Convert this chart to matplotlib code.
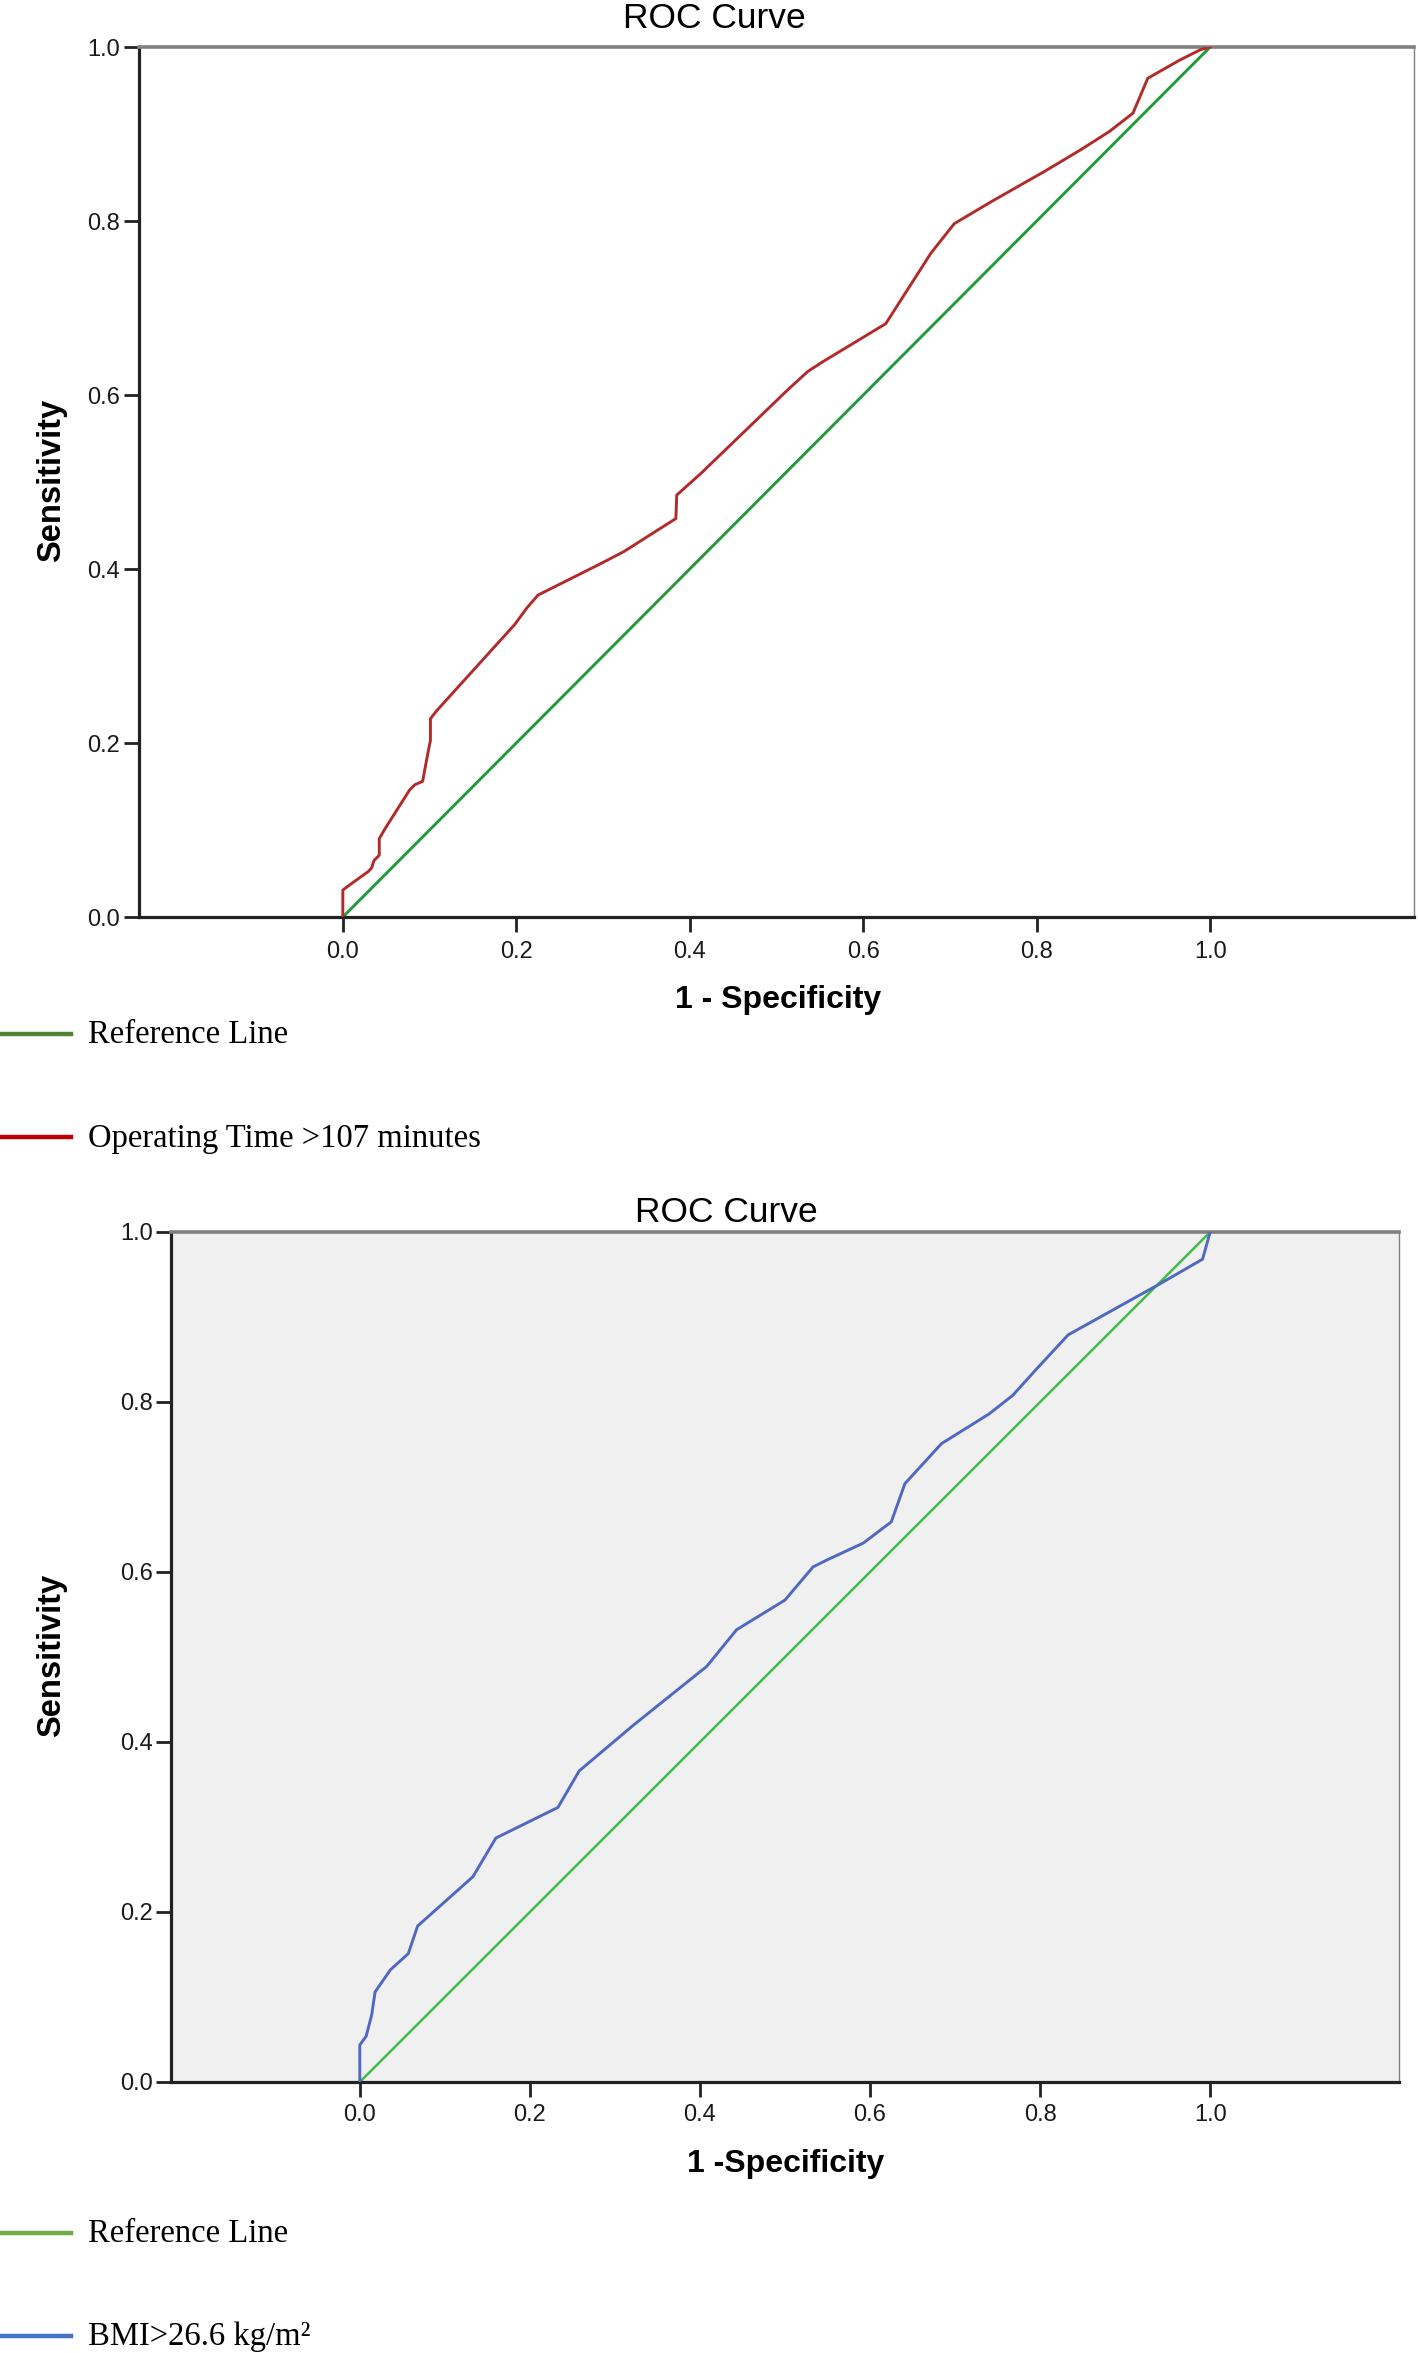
import matplotlib
matplotlib.use("Agg")
import matplotlib.pyplot as plt
from matplotlib.lines import Line2D

# ROC points
op_fpr = [0.0, 0.0, 0.008, 0.029, 0.033, 0.036, 0.042, 0.042, 0.049, 0.077, 0.083,
          0.092, 0.098, 0.101, 0.101, 0.109, 0.198, 0.212, 0.225, 0.297, 0.324,
          0.384, 0.385, 0.413, 0.513, 0.536, 0.553, 0.626, 0.678, 0.705, 0.749,
          0.809, 0.851, 0.884, 0.911, 0.928, 0.935, 0.965, 0.989, 1.0]
op_tpr = [0.0, 0.031, 0.037, 0.052, 0.056, 0.065, 0.071, 0.090, 0.102, 0.146, 0.152,
          0.156, 0.188, 0.203, 0.228, 0.238, 0.336, 0.355, 0.370, 0.406, 0.420,
          0.458, 0.485, 0.510, 0.606, 0.627, 0.638, 0.682, 0.763, 0.797, 0.823,
          0.857, 0.882, 0.903, 0.924, 0.964, 0.968, 0.985, 0.997, 1.0]

bmi_fpr = [0.0, 0.0, 0.0075, 0.014, 0.018, 0.036, 0.057, 0.068, 0.133, 0.160, 0.233,
           0.258, 0.322, 0.408, 0.443, 0.500, 0.533, 0.549, 0.592, 0.625, 0.641,
           0.684, 0.740, 0.768, 0.795, 0.833, 0.939, 0.991, 1.0]
bmi_tpr = [0.0, 0.0435, 0.054, 0.079, 0.106, 0.132, 0.151, 0.1835, 0.2415, 0.287, 0.323,
           0.366, 0.420, 0.489, 0.532, 0.567, 0.606, 0.614, 0.634, 0.659, 0.704,
           0.751, 0.786, 0.808, 0.838, 0.879, 0.938, 0.968, 1.0]

ref_x = [0.0, 1.0]
ref_y = [0.0, 1.0]
ticks = [0.0, 0.2, 0.4, 0.6, 0.8, 1.0]
tick_labels = ["0.0", "0.2", "0.4", "0.6", "0.8", "1.0"]

W, H = 1418, 2353
fig = plt.figure(figsize=(W / 100, H / 100), dpi=100)

SANS = ["Liberation Sans", "DejaVu Sans"]
SERIF = ["Liberation Serif", "DejaVu Serif"]


def fx(px):
    return px / W


def fy(px):
    return 1 - px / H


def style_axes(ax, xlim, bg, xpad, ylab_pad):
    ax.set_facecolor(bg)
    ax.set_xlim(*xlim)
    ax.set_ylim(0, 1)
    ax.set_xticks(ticks)
    ax.set_yticks(ticks)
    ax.set_xticklabels(tick_labels, family=SANS, fontsize=17, color="#1a1a1a")
    ax.set_yticklabels(tick_labels, family=SANS, fontsize=17, color="#1a1a1a")
    ax.tick_params(axis="both", direction="out", length=11, width=2.0, color="#222222")
    ax.tick_params(axis="x", pad=xpad)
    ax.tick_params(axis="y", pad=ylab_pad)
    for side in ("left", "bottom"):
        ax.spines[side].set_color("#222222")
        ax.spines[side].set_linewidth(2.3)
    ax.spines["top"].set_color("#808080")
    ax.spines["top"].set_linewidth(2.6)
    ax.spines["right"].set_color("#808080")
    ax.spines["right"].set_linewidth(1.0)


# ---- top panel: operating time ----
ax1 = fig.add_axes([fx(139), fy(917), fx(1414 - 139), (917 - 47) / H])
style_axes(ax1, (-0.235, 1.235), "white", 6, 3)
ax1.plot(ref_x, ref_y, color="#22993A", lw=2.1, zorder=2)
ax1.plot(op_fpr, op_tpr, color="#B22B2B", lw=2.1, zorder=3)

fig.text(fx(714), fy(18), "ROC Curve", family=SANS, fontsize=25.5, ha="center", va="center")
fig.text(fx(778), fy(1008), "1 - Specificity", family=SANS, fontsize=23, weight="bold",
         ha="center", va="baseline")
fig.text(fx(52), fy(480), "Sensitivity", family=SANS, fontsize=23.5, weight="bold",
         ha="center", va="center", rotation=90)

fig.add_artist(Line2D([0, fx(71)], [fy(1034), fy(1034)], color="#548235", lw=3.2))
fig.text(fx(88), fy(1043), "Reference Line", family=SERIF, fontsize=23.5, va="baseline")
fig.add_artist(Line2D([0, fx(71)], [fy(1137), fy(1137)], color="#C00000", lw=3.2))
fig.text(fx(88), fy(1147), "Operating Time >107 minutes", family=SERIF, fontsize=23.5,
         va="baseline")

# ---- bottom panel: BMI ----
ax2 = fig.add_axes([fx(171), fy(2082), fx(1399 - 171), (2082 - 1232) / H])
style_axes(ax2, (-0.222, 1.222), "#F0F0F0", 5, 2)
ax2.plot(ref_x, ref_y, color="#3DBE45", lw=1.8, zorder=2)
ax2.plot(bmi_fpr, bmi_tpr, color="#5068C0", lw=2.1, zorder=3)

fig.text(fx(726), fy(1212), "ROC Curve", family=SANS, fontsize=25.5, ha="center", va="center")
fig.text(fx(786), fy(2172), "1 -Specificity", family=SANS, fontsize=23, weight="bold",
         ha="center", va="baseline")
fig.text(fx(52), fy(1655), "Sensitivity", family=SANS, fontsize=23.5, weight="bold",
         ha="center", va="center", rotation=90)

fig.add_artist(Line2D([0, fx(71)], [fy(2233), fy(2233)], color="#70AD47", lw=3.2))
fig.text(fx(88), fy(2242), "Reference Line", family=SERIF, fontsize=23.5, va="baseline")
fig.add_artist(Line2D([0, fx(71)], [fy(2336), fy(2336)], color="#4472C4", lw=3.2))
fig.text(fx(88), fy(2345), "BMI>26.6 kg/m²", family=SERIF, fontsize=23.5, va="baseline")

fig.savefig("out.png", dpi=100, facecolor="white")
